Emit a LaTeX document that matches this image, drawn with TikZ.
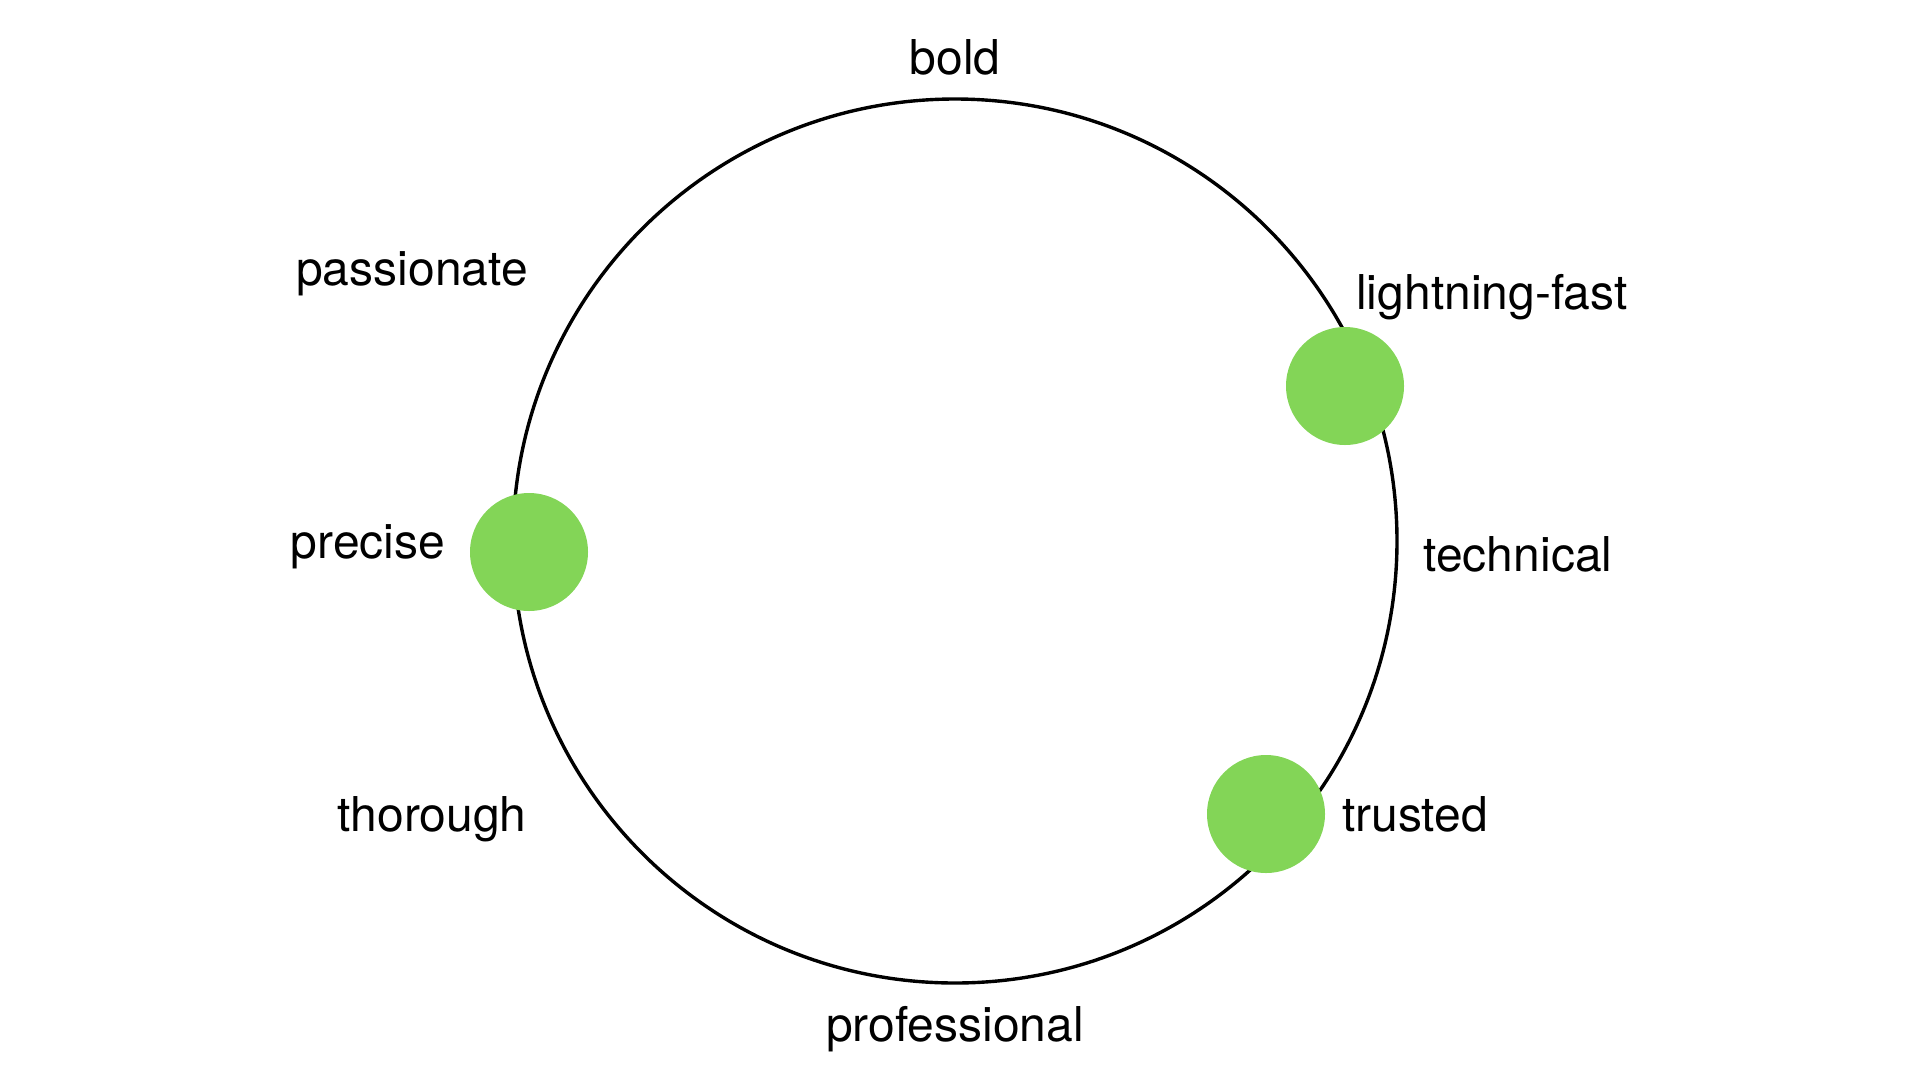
\documentclass[tikz,border=0pt]{standalone}
\usepackage{fontspec}
\setmainfont{TeX Gyre Heros}
\definecolor{dotgreen}{HTML}{83D557}
\begin{document}
\begin{tikzpicture}[x=1pt,y=-1pt,
  lbl/.style={anchor=base,inner sep=0pt,font=\fontsize{48}{57}\selectfont},
  dot/.style={circle,fill=dotgreen,minimum size=118pt,inner sep=0pt}]
\useasboundingbox (0,0) rectangle (1920,1080);
\node[circle,draw,line width=3.4pt,minimum size=884pt,inner sep=0pt] (ring) at (955,541) {};
\node[dot] (d1) at (1345,386) {};
\node[dot] (d2) at (529,552) {};
\node[dot] (d3) at (1266,814) {};
\node[lbl] (bold) at (955,74) {bold};
\node[lbl] (passionate) at (412,285) {passionate};
\node[lbl] (lightning) at (1492,309) {lightning-fast};
\node[lbl] (precise) at (368,558) {precise};
\node[lbl] (technical) at (1518,571) {technical};
\node[lbl] (thorough) at (432,831) {thorough};
\node[lbl] (trusted) at (1415,831) {trusted};
\node[lbl] (professional) at (955,1041) {professional};
\end{tikzpicture}
\end{document}
